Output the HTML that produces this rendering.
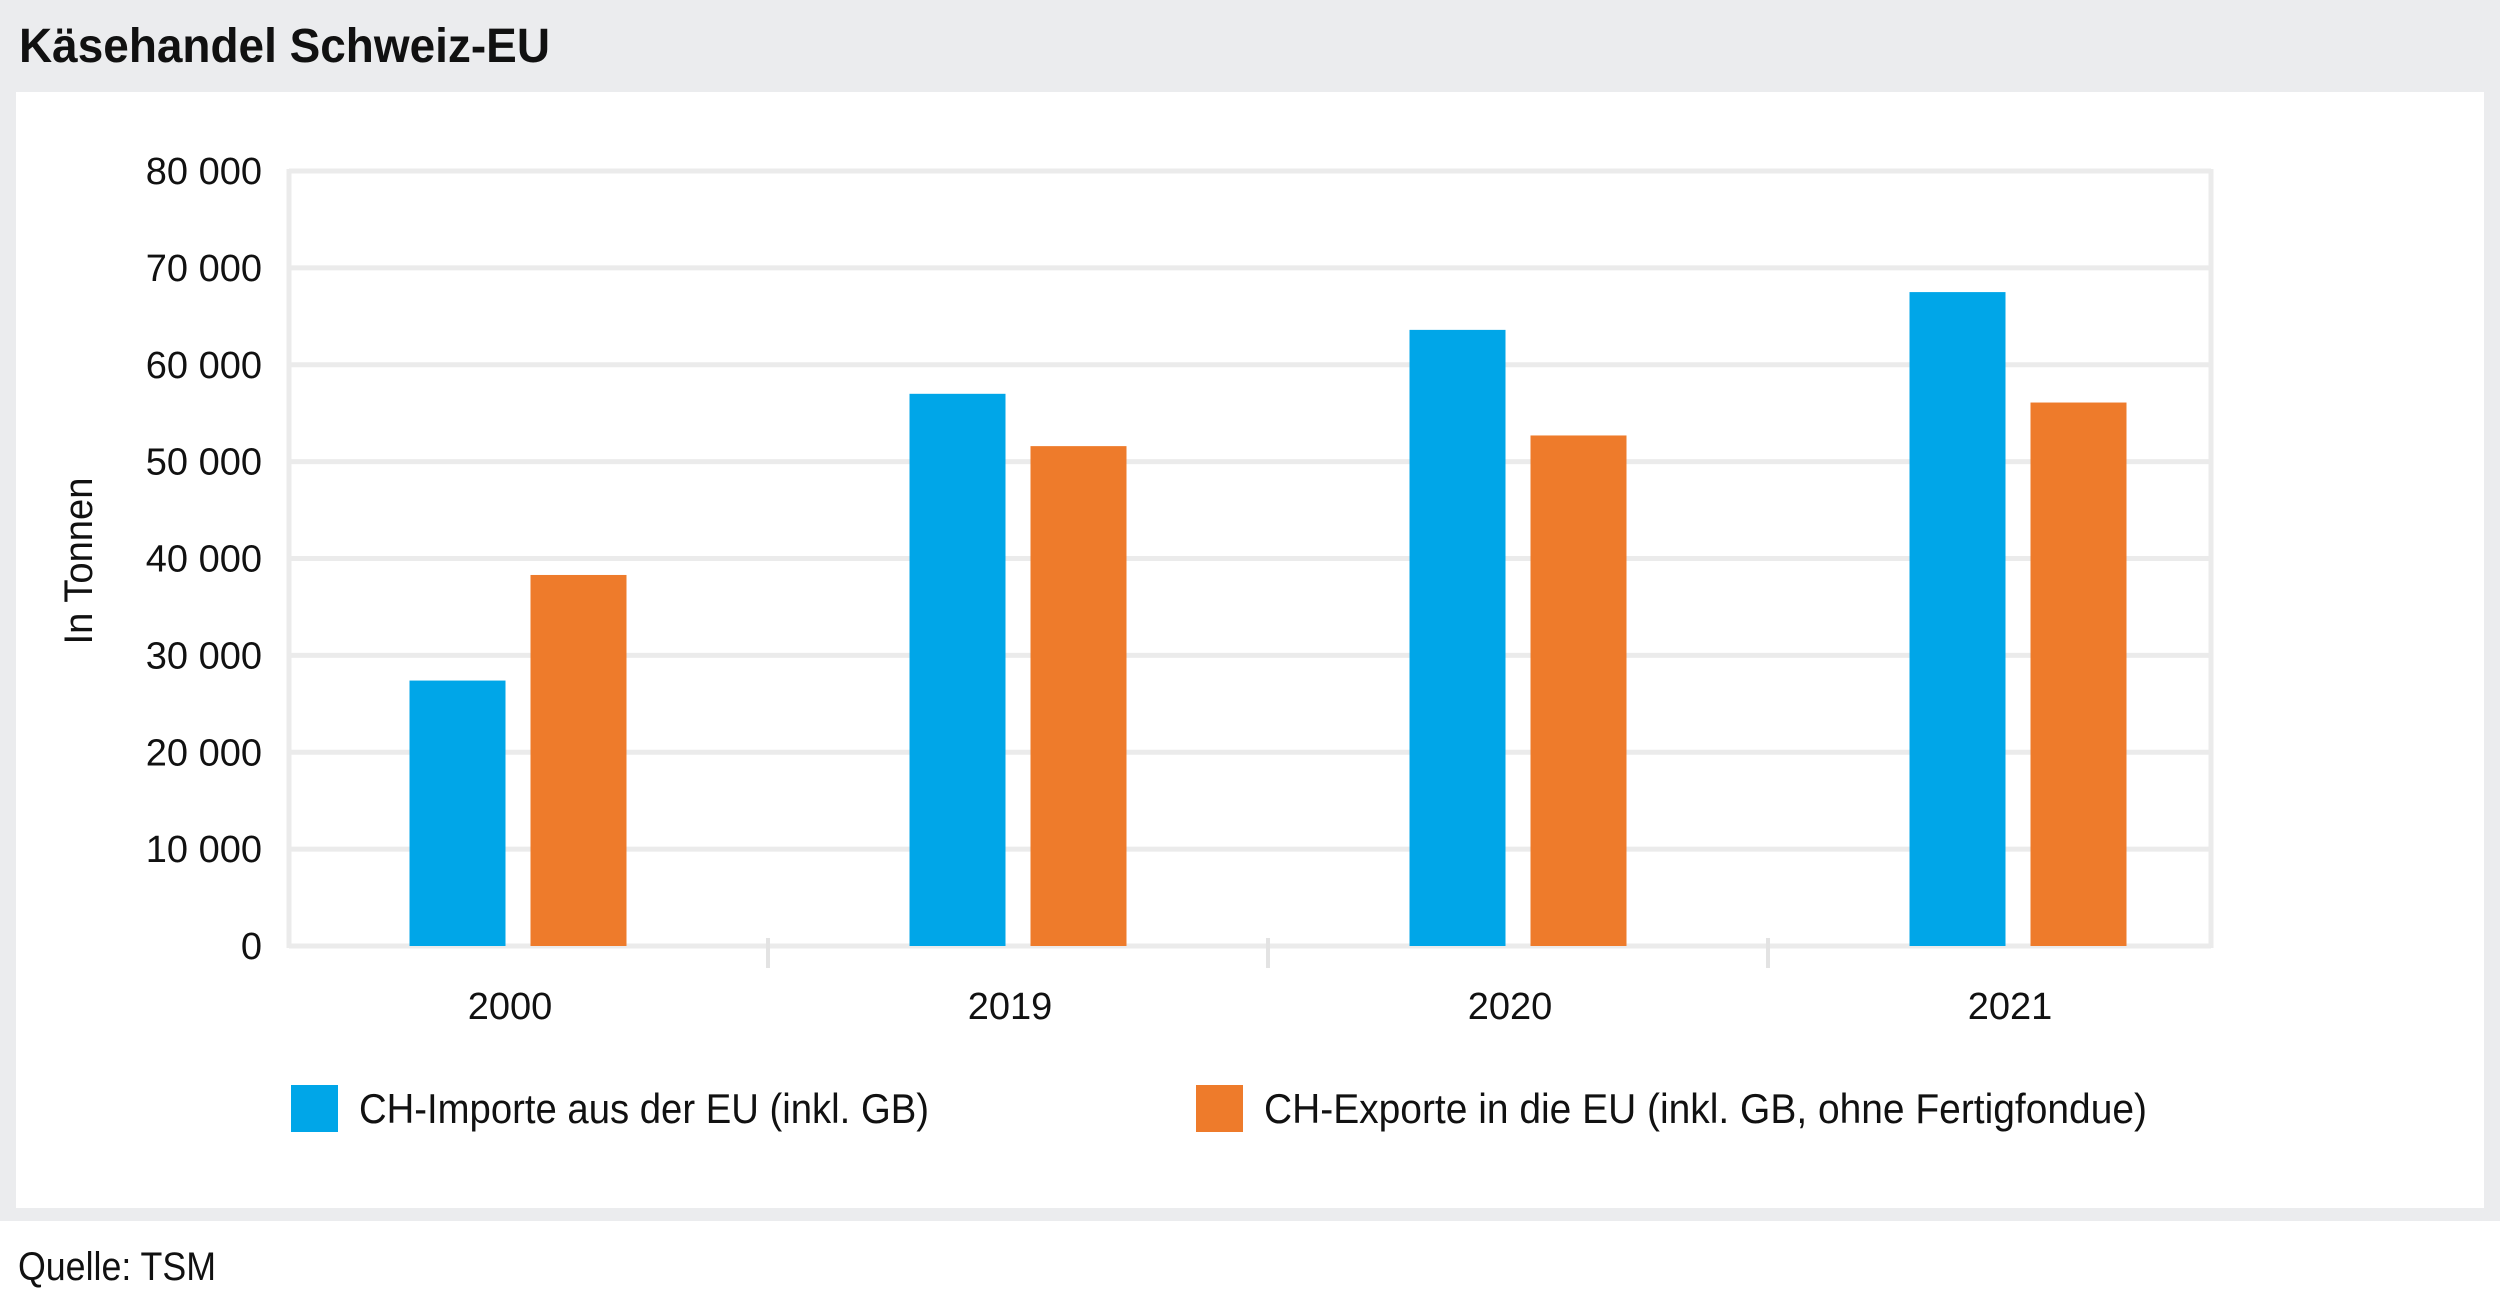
<!DOCTYPE html>
<html><head><meta charset="utf-8"><style>
html,body{margin:0;padding:0;background:#fff;}
svg{display:block;font-family:"Liberation Sans",sans-serif;}
</style></head><body>
<svg width="2500" height="1311" viewBox="0 0 2500 1311">
<rect x="0" y="0" width="2500" height="1221" fill="#ebecee"/>
<rect x="16" y="92" width="2468" height="1116" fill="#ffffff"/>
<text x="19" y="62" font-size="48" font-weight="bold" fill="#111" textLength="531" lengthAdjust="spacingAndGlyphs">Käsehandel Schweiz-EU</text>
<g id="grid"></g>
<g id="bars"></g>
<g id="axes"></g>
<text transform="translate(92,561) rotate(-90)" text-anchor="middle" font-size="40" fill="#111" textLength="167" lengthAdjust="spacingAndGlyphs">In Tonnen</text>
<rect x="291" y="1085" width="47" height="47" fill="#00a6e8"/>
<text x="359" y="1123" font-size="42" fill="#111" textLength="570" lengthAdjust="spacingAndGlyphs">CH-Importe aus der EU (inkl. GB)</text>
<rect x="1196" y="1085" width="47" height="47" fill="#ee7b2b"/>
<text x="1264" y="1123" font-size="42" fill="#111" textLength="883" lengthAdjust="spacingAndGlyphs">CH-Exporte in die EU (inkl. GB, ohne Fertigfondue)</text>
<text x="18" y="1280" font-size="40" fill="#111" textLength="198" lengthAdjust="spacingAndGlyphs">Quelle: TSM</text>
</svg>
<script>
const categories = ["2000","2019","2020","2021"];
const imports = [27400, 57000, 63600, 67500];
const exports_ = [38300, 51600, 52700, 56100];
const yTicks = [0,10000,20000,30000,40000,50000,60000,70000,80000];
const yTickLabels = ["0","10 000","20 000","30 000","40 000","50 000","60 000","70 000","80 000"];

const NS="http://www.w3.org/2000/svg";
const plotL=289, plotR=2211, plotT=171, plotB=946, yMax=80000;
const bandStart=268, bandW=500;
function y(v){return plotB-(v/yMax)*(plotB-plotT);}
function xc(i){return bandStart+bandW*(i+0.5);}
function mk(tag,attrs,parent){const e=document.createElementNS(NS,tag);for(const k in attrs)e.setAttribute(k,attrs[k]);parent.appendChild(e);return e;}
const grid=document.getElementById('grid'), bars=document.getElementById('bars'), axes=document.getElementById('axes');
yTicks.forEach((t,i)=>{
  const l=mk('line',{x1:plotL,x2:plotR,y1:y(t),y2:y(t),stroke:'#ebebeb','stroke-width':5},grid);
  
  
  const tx=mk('text',{x:262,y:y(t)+13,'text-anchor':'end','font-size':38,fill:'#111'},axes);
  tx.textContent=yTickLabels[i];
  
  
});
[plotL,plotR].forEach(xx=>{
  const l=mk('line',{x1:xx,x2:xx,y1:plotT-2,y2:plotB+2,stroke:'#ebebeb','stroke-width':5},grid);
  
  
});
for(let i=1;i<categories.length;i++){
  const xx=bandStart+bandW*i;
  const l=mk('line',{x1:xx,x2:xx,y1:938,y2:968,stroke:'#e3e3e3','stroke-width':4},axes);
  
  
}
const bw=96, gap=25;
categories.forEach((c,i)=>{
  const cx=xc(i);
  const b1=mk('rect',{x:cx-gap/2-bw,y:y(imports[i]),width:bw,height:plotB-y(imports[i]),fill:'#00a6e8'},bars);
  
  
  const b2=mk('rect',{x:cx+gap/2,y:y(exports_[i]),width:bw,height:plotB-y(exports_[i]),fill:'#ee7b2b'},bars);
  
  
  const tx=mk('text',{x:cx-8,y:1019,'text-anchor':'middle','font-size':38,fill:'#111'},axes);
  tx.textContent=c;
  
  
});
</script>
</body></html>
